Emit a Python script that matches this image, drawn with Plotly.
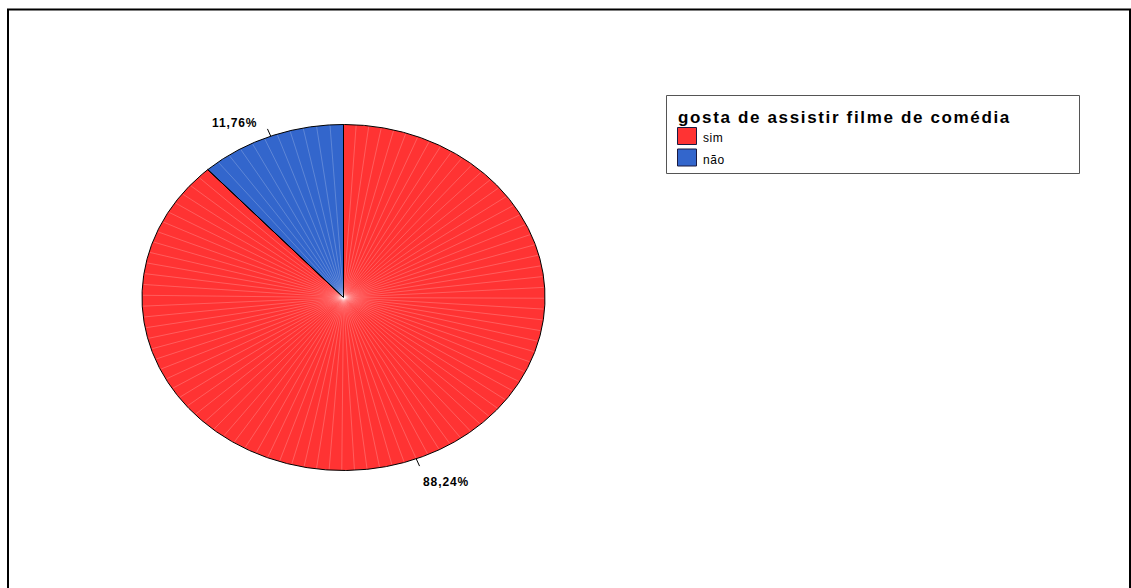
import numpy as np
import plotly.graph_objects as go

# ---- data ----
categories = ["sim", "não"]
percentages = [88.24, 11.76]
slice_colors = ["#FF3333", "#3366CC"]
legend_title = "gosta de assistir filme de comédia"

W, H = 1131, 588
cx, cy, rx, ry = 343.5, 297.5, 201.5, 173.0
FONT = "Liberation Sans, Arial, sans-serif"


def pt(t_deg, k=1.0):
    t = np.radians(t_deg)
    return cx + k * rx * np.sin(t), cy - k * ry * np.cos(t)


def spaced(txt, px):
    return f'<span style="letter-spacing:{px}px">{txt}</span>'


fig = go.Figure()
annotations = []
shapes = []

total = sum(percentages)
start = 0.0
bounds = []
for cat, val, col in zip(categories, percentages, slice_colors):
    span = 360.0 * val / total
    ts = np.linspace(start, start + span, max(int(span * 3), 3))
    xs = [cx] + [pt(t)[0] for t in ts] + [cx]
    ys = [cy] + [pt(t)[1] for t in ts] + [cy]
    fig.add_trace(go.Scatter(
        x=xs, y=ys, mode="lines", fill="toself", fillcolor=col,
        line=dict(color="black", width=1), name=cat, showlegend=False,
        hoverinfo="name",
    ))
    bounds.append((start, start + span, col))
    mid = start + span / 2
    # leader line
    x0, y0 = pt(mid, 1.0)
    x1, y1 = pt(mid, 1.045)
    shapes.append(dict(type="line", xref="x", yref="y", x0=x0, y0=y0, x1=x1, y1=y1,
                       line=dict(color="black", width=1)))
    label = f"{val:.2f}".replace(".", ",") + "%"
    right_side = np.sin(np.radians(mid)) > 0
    lower = np.cos(np.radians(mid)) < 0
    annotations.append(dict(
        x=x1, y=y1, xref="x", yref="y", text="<b>" + spaced(label, 0.9) + "</b>",
        showarrow=False,
        xanchor="left" if right_side else "right",
        yanchor="top" if lower else "bottom",
        xshift=1 if right_side else -8,
        yshift=-7 if lower else -3,
        font=dict(family=FONT, size=12, color="black"),
    ))
    start += span

# faint radial shading lines inside the slices
for s, e, col in bounds:
    lx, ly = [], []
    n = max(int((e - s) / 3.6), 1)
    for t in np.linspace(s, e, n + 1)[1:-1]:
        px, py = pt(t, 0.995)
        lx += [cx, px, None]
        ly += [cy, py, None]
    fig.add_trace(go.Scatter(x=lx, y=ly, mode="lines", showlegend=False, hoverinfo="skip",
                             line=dict(color="rgba(255,255,255,0.3)", width=0.7)))

# slice separators on top
sep_x, sep_y = [], []
for s, e, col in bounds:
    px, py = pt(s)
    sep_x += [cx, px, None]
    sep_y += [cy, py, None]
fig.add_trace(go.Scatter(x=sep_x, y=sep_y, mode="lines", showlegend=False, hoverinfo="skip",
                         line=dict(color="black", width=1)))

# outer frame
shapes.append(dict(type="rect", xref="x", yref="y", x0=8, y0=9.5, x1=1130, y1=600,
                   line=dict(color="black", width=2)))

# legend box (manual, SPSS style)
lx0, ly0, lx1, ly1 = 666.5, 95.5, 1079.5, 173.5
shapes.append(dict(type="rect", xref="x", yref="y", x0=lx0, y0=ly0, x1=lx1, y1=ly1,
                   line=dict(color="#555555", width=1), fillcolor="white"))
annotations.append(dict(x=676, y=117, xref="x", yref="y",
                        text="<b>" + spaced(legend_title, 1.65) + "</b>",
                        showarrow=False, xanchor="left", yanchor="middle",
                        font=dict(family=FONT, size=17, color="black")))
for i, (cat, col) in enumerate(zip(categories, slice_colors)):
    sy = 127.5 + i * 21.5
    shapes.append(dict(type="rect", xref="x", yref="y", x0=677.5, y0=sy, x1=696.5, y1=sy + 17,
                       line=dict(color="#1a1a40", width=1), fillcolor=col))
    annotations.append(dict(x=701, y=sy + 10.5, xref="x", yref="y", text=spaced(cat, 0.6),
                            showarrow=False, xanchor="left", yanchor="middle",
                            font=dict(family=FONT, size=12, color="black")))

fig.update_layout(
    width=W, height=H, margin=dict(l=0, r=0, t=0, b=0),
    paper_bgcolor="white", plot_bgcolor="white",
    xaxis=dict(range=[0, W], visible=False, fixedrange=True),
    yaxis=dict(range=[H, 0], visible=False, fixedrange=True),
    shapes=shapes, annotations=annotations, showlegend=False,
)

fig.write_html("out.html", config={"displayModeBar": False},
               post_script="document.body.style.margin='0';")
